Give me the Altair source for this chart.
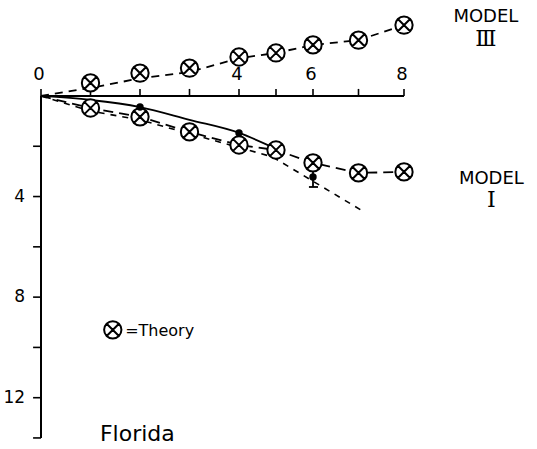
import altair as alt
import pandas as pd

# ---- data -------------------------------------------------------------
# Model III (theory, plotted above the axis)
m3_x = [1, 2, 3, 4, 5, 6, 7, 8]
m3_y = [-0.52, -0.91, -1.11, -1.55, -1.71, -2.03, -2.22, -2.82]
m3_curve_x = [0, 1, 2, 3, 4, 5, 6, 7, 8]
m3_curve_y = [0, -0.32, -0.70, -0.95, -1.50, -1.71, -2.03, -2.22, -2.82]

# Model I (theory)
m1_x = [1, 2, 3, 4, 5, 6, 7, 8]
m1_y = [0.48, 0.83, 1.43, 1.95, 2.15, 2.66, 3.06, 3.02]
m1_curve_x = [0] + m1_x
m1_curve_y = [0] + m1_y

# Observations with fitted curve and its extrapolation
obs_x = [2, 4, 6]
obs_y = [0.44, 1.47, 3.22]
err_x = [6]
err_lo = [2.9]
err_hi = [3.62]
fit_x = [0, 1, 2, 3, 4, 5]
fit_y = [0, 0.16, 0.44, 0.95, 1.47, 2.10]
ext_x = [0, 1, 2, 3, 4, 4.9, 7.05]
ext_y = [0, 0.60, 0.95, 1.50, 2.05, 2.42, 4.53]

# Legend key position
key_x = [1.45]
key_y = [9.3]

# Axes
x_tick_vals = [0, 1, 2, 3, 4, 5, 6, 7, 8]
x_label_vals = [0, 4, 6, 8]
y_tick_vals = [2, 4, 6, 8, 10, 12, 13.6]
y_label_vals = [4, 8, 12]
x_axis_end = 8
y_axis_end = 13.6

# ---- scales -----------------------------------------------------------
xs = alt.Scale(domain=[0, 4, 6, 8], range=[0, 198, 272, 363], zero=False, nice=False)
ys = alt.Scale(domain=[-3.18, 14], reverse=True, zero=False, nice=False)


def X(f):
    return alt.X(f, type="quantitative", scale=xs, axis=None)


def Y(f):
    return alt.Y(f, type="quantitative", scale=ys, axis=None)


# circle with a diagonal cross
otimes = ("M-1,0A1,1,0,1,0,1,0A1,1,0,1,0,-1,0Z"
          "M-0.7071,-0.7071L0.7071,0.7071M-0.7071,0.7071L0.7071,-0.7071")

INK = "black"

# ---- axes -------------------------------------------------------------
x_axis = alt.Chart(pd.DataFrame({"x0": [0], "x1": [x_axis_end], "y": [0]})).mark_rule(
    color=INK, strokeWidth=2).encode(x=X("x0"), x2=alt.X2("x1"), y=Y("y"))
y_axis = alt.Chart(pd.DataFrame({"x": [0], "y0": [0], "y1": [y_axis_end]})).mark_rule(
    color=INK, strokeWidth=2).encode(x=X("x"), y=Y("y0"), y2=alt.Y2("y1"))

x_ticks = alt.Chart(pd.DataFrame({"x": x_tick_vals, "y0": 0.0, "y1": -0.28})).mark_rule(
    color=INK, strokeWidth=1.6).encode(x=X("x"), y=Y("y0"), y2=alt.Y2("y1"))
y_ticks = alt.Chart(pd.DataFrame({"y": y_tick_vals, "x0": 0.0, "x1": -0.16})).mark_rule(
    color=INK, strokeWidth=1.6).encode(y=Y("y"), x=X("x0"), x2=alt.X2("x1"))

x_labels = alt.Chart(pd.DataFrame({"x": x_label_vals, "y": -0.82,
                                   "t": [str(v) for v in x_label_vals]})).mark_text(
    font="DejaVu Sans", fontSize=18, color=INK, baseline="middle", align="center", dx=-2
).encode(x=X("x"), y=Y("y"), text="t:N")
y_labels = alt.Chart(pd.DataFrame({"y": y_label_vals, "x": -0.32,
                                   "t": [str(v) for v in y_label_vals]})).mark_text(
    font="DejaVu Sans", fontSize=17, color=INK, baseline="middle", align="right"
).encode(x=X("x"), y=Y("y"), text="t:N")

# ---- curves -----------------------------------------------------------
m3_line = alt.Chart(pd.DataFrame({"x": m3_curve_x, "y": m3_curve_y})).mark_line(
    color=INK, strokeWidth=1.8, strokeDash=[8, 6]).encode(x=X("x"), y=Y("y"))
m1_line = alt.Chart(pd.DataFrame({"x": m1_curve_x, "y": m1_curve_y})).mark_line(
    color=INK, strokeWidth=1.8, strokeDash=[10, 6]).encode(x=X("x"), y=Y("y"))
fit_line = alt.Chart(pd.DataFrame({"x": fit_x, "y": fit_y})).mark_line(
    color=INK, strokeWidth=1.8, interpolate="monotone").encode(x=X("x"), y=Y("y"))
ext_line = alt.Chart(pd.DataFrame({"x": ext_x, "y": ext_y})).mark_line(
    color=INK, strokeWidth=1.6, strokeDash=[6, 6]).encode(x=X("x"), y=Y("y"))

# error bar on the last observation
err_df = pd.DataFrame({"x": err_x, "lo": err_lo, "hi": err_hi,
                       "c0": [v - 0.11 for v in err_x], "c1": [v + 0.11 for v in err_x]})
err_stem = alt.Chart(err_df).mark_rule(color=INK, strokeWidth=1.8).encode(
    x=X("x"), y=Y("lo"), y2=alt.Y2("hi"))
err_cap = alt.Chart(err_df).mark_rule(color=INK, strokeWidth=1.8).encode(
    x=X("c0"), x2=alt.X2("c1"), y=Y("hi"))

# ---- markers ----------------------------------------------------------
theory_df = pd.DataFrame({"x": m3_x + m1_x + key_x, "y": m3_y + m1_y + key_y})
theory_pts = alt.Chart(theory_df).mark_point(
    shape=otimes, size=300, filled=True, fill="white", stroke=INK, strokeWidth=2,
    opacity=1).encode(x=X("x"), y=Y("y"))

obs_pts = alt.Chart(pd.DataFrame({"x": obs_x, "y": obs_y})).mark_circle(
    size=55, color=INK, opacity=1).encode(x=X("x"), y=Y("y"))

# ---- annotations ------------------------------------------------------
model_words = alt.Chart(pd.DataFrame({"x": [9.8, 9.92], "y": [-3.16, 3.3],
                                      "t": ["MODEL", "MODEL"]})).mark_text(
    font="DejaVu Sans", fontSize=18, color=INK, baseline="middle", align="center"
).encode(x=X("x"), y=Y("y"), text="t:N")
numerals = alt.Chart(pd.DataFrame({"x": [9.8, 9.92], "y": [-2.25, 4.15],
                                   "t": ["Ⅲ", "Ⅰ"]})).mark_text(
    font="DejaVu Serif", fontSize=22, color=INK, baseline="middle", align="center"
).encode(x=X("x"), y=Y("y"), text="t:N")
key_text = alt.Chart(pd.DataFrame({"x": [1.7], "y": [9.34], "t": ["=Theory"]})).mark_text(
    font="DejaVu Sans", fontSize=16, color=INK, baseline="middle", align="left"
).encode(x=X("x"), y=Y("y"), text="t:N")
place_text = alt.Chart(pd.DataFrame({"x": [1.19], "y": [13.43], "t": ["Florida"]})).mark_text(
    font="DejaVu Sans", fontSize=22, color=INK, baseline="middle", align="left"
).encode(x=X("x"), y=Y("y"), text="t:N")

chart = alt.layer(
    x_axis, y_axis, x_ticks, y_ticks, x_labels, y_labels,
    m3_line, m1_line, fit_line, ext_line, err_stem, err_cap,
    theory_pts, obs_pts,
    model_words, numerals, key_text, place_text,
).properties(
    width=363, height=432,
    autosize=alt.AutoSizeParams(type="none"),
    padding={"left": 41, "top": 16, "right": 133, "bottom": 1},
    background="white",
).configure_view(stroke=None)

chart.save("out.html", embed_options={"renderer": "svg", "actions": False})
